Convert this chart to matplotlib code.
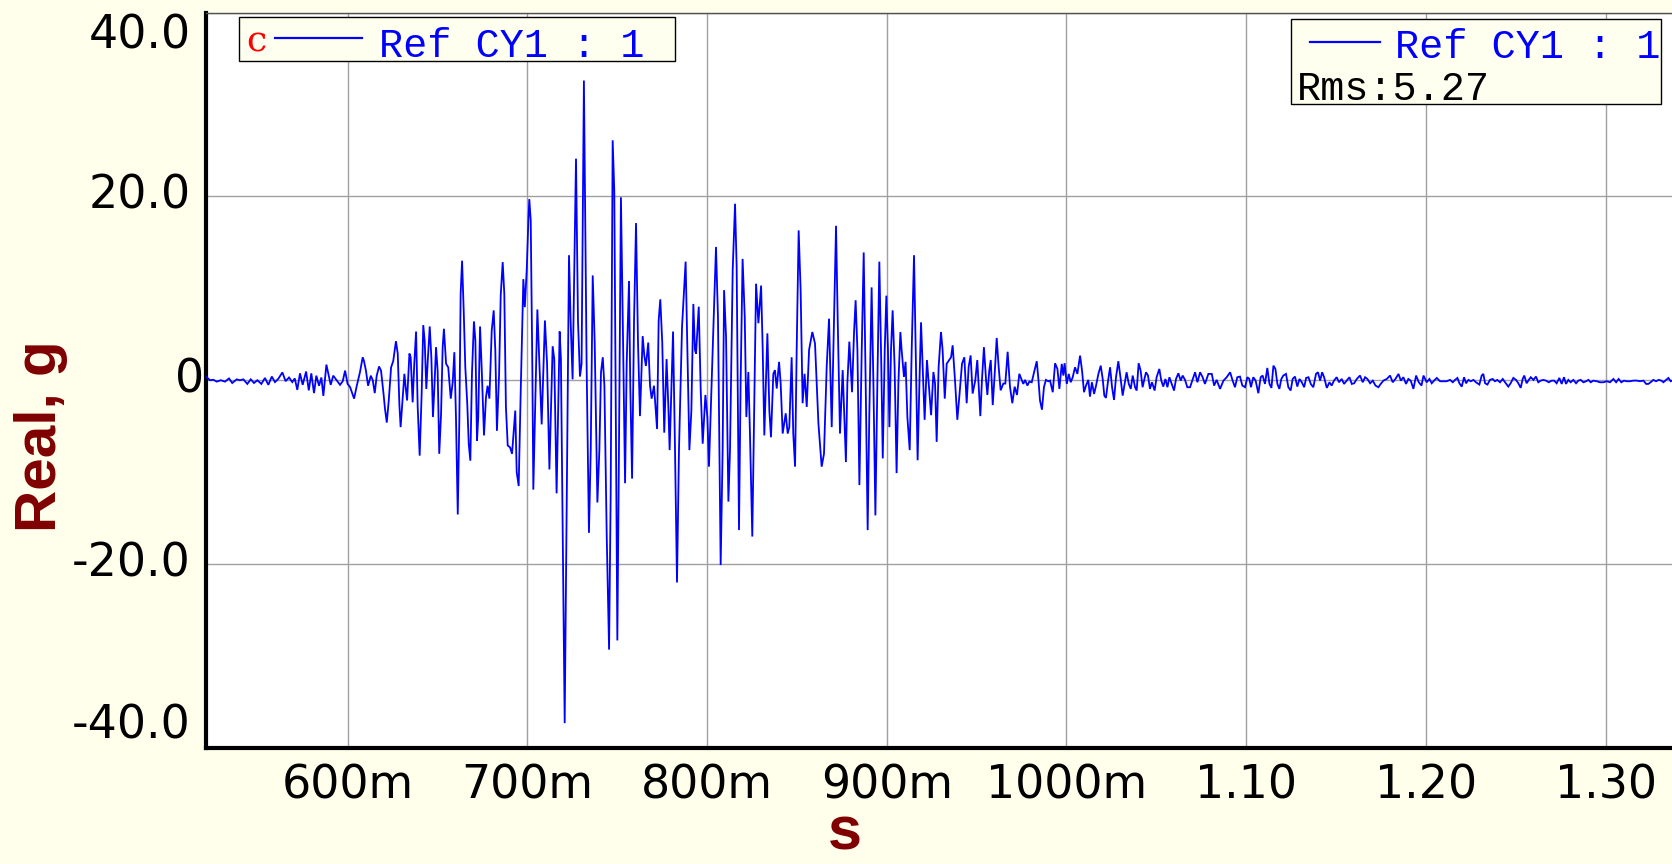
import numpy as np
import matplotlib
matplotlib.use("Agg")
import matplotlib.pyplot as plt
from matplotlib.patches import Rectangle
from matplotlib.lines import Line2D
import matplotlib.transforms as mtransforms

# ---------------- data (time in ms, value in g) ----------------
onset = [(521.2, 0.4), (523.4, 0), (525.3, 0.05), (527.2, -0.15), (529.4, 0), (531.8, -0.15), (534.0, 0.2),
         (535.8, -0.3), (538.3, 0.1), (540.1, 0), (542.0, 0.1), (544.2, -0.4), (546.1, 0.1), (547.9, -0.3),
         (549.8, 0), (552.0, -0.4), (554.0, 0.25), (555.9, -0.5), (557.8, 0.4), (559.6, -0.2), (561.4, 0.15),
         (563.7, 0.85), (565.5, -0.1), (567.4, 0.3), (569.2, -0.2), (570.6, 0.2), (572.0, -1.05), (573.5, 0.75),
         (575.0, -0.5), (576.9, 0.95), (578.4, -1.1), (579.8, 0.75), (581.3, -1.4), (582.6, 0.5), (584.1, -0.6),
         (585.4, 0.3), (586.5, -1.7), (588.2, 1.7), (589.5, 0.5), (590.6, -0.5), (592.0, 0.5), (593.9, 0),
         (595.8, -0.5), (597.3, -0.1), (598.6, 1.05), (600.0, -0.4), (601.4, -0.75), (603.6, -2.0), (605.1, -0.6)]

buildup = [(606.9, 0.9), (608.4, 2.5), (609.1, 2.1), (610.2, 1.05), (611.4, -0.6), (612.9, 0.5), (614.0, 0),
           (615.1, -1.4), (616.2, 0.5), (617.5, 1.5), (618.6, 1.05), (619.9, -1.3), (620.8, -3.1), (621.8, -4.6),
           (622.9, -2.2), (624.2, 1.4), (625.4, 2.1), (626.9, 4.25), (627.9, 2.9), (628.8, -2.6), (629.5, -5.1),
           (630.7, -1.85), (631.6, 0.7), (632.3, -0.75), (633.1, -2.2), (634.4, 2.9), (635.1, 2.5), (636.2, -2.4),
           (637.1, 1.8), (638.1, 5.3), (639.0, -2.9), (640.1, -8.2), (641.2, -1.5), (642.1, 6.0), (642.9, 4.3),
           (643.8, -0.95), (644.6, 2.1), (645.7, 5.85), (646.6, 2.5), (647.5, -4.0), (648.3, -0.75), (649.2, 3.6),
           (650.1, 1.05), (651.0, -8.0), (652.0, -3.7), (652.9, 3.6), (653.6, 5.6), (654.8, 1.8), (656.0, 1.4),
           (657.4, -2.0), (658.5, -0.2), (659.4, 3.05), (660.3, -4.0), (661.3, -14.6), (662.2, -4.0), (662.9, 9.4),
           (663.7, 13.0), (664.6, 7.6), (665.5, 1.4), (666.6, -2.6), (667.4, -6.9), (668.3, -8.75), (669.2, 0.7),
           (670.3, 6.4), (671.1, 4.3), (672.0, -6.6), (672.7, -4.0), (673.7, 5.85), (674.6, 1.4), (675.9, -6.0),
           (677.0, -1.85), (677.9, -0.6), (678.9, -2.0), (680.2, 5.4), (681.3, 7.6), (682.2, 3.2), (683.1, -5.5),
           (684.3, 0.7), (685.2, 9.2), (686.3, 12.85), (687.2, 9.4), (688.1, -2.9), (689.1, -7.1), (690.4, -7.3),
           (691.5, -8.0), (692.6, -5.1), (693.3, -3.3), (694.1, -10.0), (695.2, -11.5), (696.3, -1.5), (697.1, 5.05),
           (697.8, 11.0), (698.6, 7.95), (699.7, 12.1), (700.6, 17.4), (701.1, 19.7), (701.9, 17.4), (702.8, 1.4)]

strong = [(703.35, -11.9), (705.6, 7.7), (708.0, -4.8), (709.8, 6.5), (711.0, 1.8), (712.3, -9.7), (714.1, 3.7),
          (715.0, 2.3), (716.3, -12.3), (718.0, 5.3), (718.7, 2.3), (720.8, -37.3), (723.2, 13.6), (724.1, 6.5),
          (725.2, 0.1), (727.1, 24.1), (728.2, 6.5), (729.3, 0.4), (730.2, 1.8), (731.5, 32.6), (733.0, 1.8),
          (734.3, -16.6), (735.3, -7.6), (736.4, 11.4), (737.5, 4.1), (739.0, -13.3), (740.1, -7.6), (741.0, 0.85),
          (742.0, 2.5), (742.9, -0.6), (744.2, -17.0), (745.5, -29.3), (746.4, -12.3), (747.5, 26.1), (748.4, 20.6),
          (750.1, -28.3), (751.0, -7.6), (752.1, 19.9), (753.3, 4.1), (754.4, -11.2), (755.3, 1.8), (756.6, 10.8),
          (757.3, -0.6), (758.3, -10.7), (759.4, 6.5), (760.5, 17.1), (761.6, 4.1), (762.7, -3.9), (764.2, 4.8),
          (765.1, 2.7), (766.0, 1.55), (767.3, 4.1), (768.3, -0.6), (769.2, -2.0), (770.5, -0.6), (772.2, -5.3),
          (773.1, 6.5), (774.0, 8.8), (775.1, 4.1), (776.2, -5.7), (777.5, 2.3), (778.5, -2.9), (779.2, -7.6),
          (781.1, 5.3), (782.2, -7.6), (783.3, -22.0), (784.4, -7.6)]

late = [(785.3, -0.36), (786.1, 5.8), (786.8, 8.3), (788.1, 12.9), (789.1, 3.3), (790.2, -7.6), (791.3, -3.3),
        (792.4, 8.3), (793.3, 3.3), (793.9, 2.9), (795.4, 8.0), (796.5, -1.1), (797.6, -6.9), (799.1, -1.6),
        (800.2, -4.0), (801.1, -9.4), (802.6, -0.36), (803.5, 5.4), (805.0, 14.5), (806.1, 6.9), (807.6, -20.1),
        (808.7, -7.6), (809.5, 9.8), (810.6, 4.7), (811.9, -13.2), (812.8, -7.6), (814.3, 12.0), (815.6, 19.2),
        (816.5, 12.3), (817.8, -16.3), (818.7, -0.36), (819.8, 13.2), (821.0, 6.9), (821.9, -4.0), (823.0, 0.9),
        (823.9, -5.8), (825.2, -17.0), (826.2, -4.0), (827.3, 10.5), (828.6, 6.2), (830.1, 10.3), (831.0, 3.3),
        (831.9, -6.0), (833.6, 5.1), (834.7, -3.3), (835.6, -6.2), (836.9, 0.7), (837.8, 1.1), (838.8, -0.9),
        (840.1, 2.0), (841.0, -0.36), (842.1, -5.8), (843.8, -3.6), (844.9, -5.8), (845.8, -5.1), (847.1, 2.5),
        (848.0, -5.8), (849.0, -9.4), (849.9, 3.3), (851.0, 16.3), (852.1, 9.8), (853.2, -2.5), (854.3, 0.7),
        (855.5, -2.9), (856.8, 3.3), (858.6, 5.25), (860.1, 4.0), (862.0, -4.7), (863.8, -9.4), (865.1, -8.0),
        (866.6, 1.45), (867.9, 6.7), (869.4, -5.1), (870.3, 3.3), (871.8, 16.8), (872.7, 6.9), (874.0, -5.8),
        (875.5, 1.1), (877.3, -8.9), (878.1, -0.36), (879.2, 4.2), (880.7, -1.3), (881.8, 5.1), (882.7, 8.7),
        (883.7, 3.3), (884.8, -11.4), (886.1, 3.3), (887.2, 13.9), (888.3, -0.36), (889.4, -16.3), (890.3, -4.0),
        (891.6, 10.1), (892.6, -0.36), (893.7, -14.7), (894.8, -0.36), (895.9, 12.9), (897.0, 1.45), (897.8, -8.5),
        (898.9, 3.3), (899.8, 9.2), (900.7, 3.3), (901.5, -5.1), (902.4, 3.3), (903.3, 7.6), (904.4, 1.45),
        (905.5, -10.1), (906.5, -0.36), (907.6, 5.25), (908.3, 3.3), (909.6, 0.36), (910.5, 2.0), (911.5, -4.0),
        (912.8, -7.6), (913.9, 3.3), (915.2, 13.6), (916.1, 3.3), (917.2, -8.7), (918.2, -0.36), (919.1, 6.3),
        (920.0, 1.45), (921.1, -4.3), (922.4, 2.2), (923.4, -0.36), (924.7, -3.8), (926.0, 0.9), (926.9, -0.36),
        (927.8, -6.7), (928.9, 1.45), (930.2, 5.25), (931.1, 3.3), (932.3, -2.0), (933.4, 1.8)]

decay = [(935.8, 2.5), (936.7, 3.8), (938.0, 0), (939.3, -4.3), (940.4, -1.8), (941.9, 1.8), (943.2, 2.5),
         (944.5, -2.5), (945.6, 1.45), (946.7, 2.7), (947.8, -1.45), (949.3, 0), (950.4, 2.2), (952.1, -3.9),
         (953.0, 0), (954.1, 3.6), (955.3, 0), (956.0, -1.6), (957.1, 1.1), (957.9, 2.2), (959.0, -2.7),
         (960.1, 0.7), (961.2, 4.6), (962.3, 1.45), (963.4, -1.1), (964.9, -0.36), (966.0, -0.36), (967.3, 3.1),
         (968.6, -0.7), (969.9, -2.5), (971.2, -0.7), (972.5, -1.6), (973.8, 0.7)]

coda = [(976.0, -0.4), (977.0, 0.04), (978.3, -0.58), (979.4, -0.14), (980.7, -0.22), (982.0, 0.87), (983.5, 2.07),
        (984.4, 0.14), (985.3, -2.2), (986.4, -3.2), (987.5, -0.76), (988.6, 0.04), (989.9, -0.11), (990.9, -0.04),
        (992.4, -1.3), (993.7, 1.85), (995.0, 1.23), (996.1, -0.94), (997.4, 1.78), (998.3, 0.51), (999.0, 1.85),
        (1000.2, -0.4), (1001.3, 0.69), (1002.4, -0.22), (1003.5, 0.33), (1004.8, 1.41), (1006.1, 0.69),
        (1007.6, 2.68), (1008.7, 1.05), (1009.8, -1.3), (1010.9, -0.58), (1012.2, 0.04), (1013.1, -1.78),
        (1014.2, -0.22), (1015.4, -1.49), (1016.5, -0.58), (1017.8, 0.69), (1019.1, 1.59), (1020.2, 0.14),
        (1021.1, -1.67), (1022.0, -1.92), (1023.2, -0.04), (1024.3, 1.41), (1025.4, -0.76), (1026.5, -2.14),
        (1027.6, 0.33), (1028.9, 2.07), (1030.2, 0.14), (1031.3, -1.67), (1032.4, -0.4), (1033.5, 0.87),
        (1034.7, -0.4), (1035.8, -0.94), (1036.9, 0.51), (1038.2, -0.76), (1039.1, -1.12), (1040.2, 1.85),
        (1041.3, 1.05), (1042.4, -0.76), (1043.2, -0.04), (1044.3, 0.87), (1045.4, 0.51), (1046.5, -0.94),
        (1047.6, -0.22), (1049.1, -1.12), (1050.2, 0.33), (1051.7, 1.23), (1052.8, -0.04), (1053.9, -0.69),
        (1055.1, 0.14), (1056.2, -0.76), (1057.3, 0.33), (1058.6, -0.4), (1059.9, -1.12), (1061.0, 0.14),
        (1062.3, 0.76), (1063.6, -0.04), (1064.7, 0.51), (1066.0, 0.04), (1067.3, -0.76)]

tail_a = [(1068.8, -0.76), (1071.6, 0.87), (1072.9, -0.22), (1074.4, 0.87), (1075.8, 0.33), (1077.1, -0.4),
          (1079.0, 0.69), (1080.9, 0.69), (1082.2, -0.58), (1083.6, 0.04), (1085.5, -0.94), (1087.4, -0.04),
          (1089.2, 0.33), (1091.1, 0.87), (1092.5, -0.04), (1093.8, -0.76), (1095.1, 0.33), (1096.6, 0.4),
          (1097.9, -0.58), (1099.4, -0.76), (1100.7, 0.33), (1101.8, 0.14), (1102.7, -0.76), (1104.0, 0.33),
          (1105.3, -0.04), (1106.8, -1.41), (1108.1, 0.33), (1109.2, 0.51), (1110.5, -0.4), (1111.8, 1.34),
          (1113.0, -0.4), (1114.1, -0.83), (1115.2, 1.59), (1116.3, 1.23), (1117.4, -0.4), (1118.5, -0.94),
          (1119.6, 0.14), (1120.7, 0.51), (1122.2, 0.69), (1123.5, -0.76), (1124.8, -1.12), (1125.9, 0.14),
          (1127.2, 0.4), (1128.5, -0.69), (1129.7, 0.14), (1131.0, -0.22), (1132.3, -0.76), (1133.4, 0.25),
          (1134.7, 0.33), (1136.0, -0.4), (1137.4, -0.76), (1138.9, 0.69), (1140.0, 0.87), (1141.2, -0.04),
          (1142.3, 0.87), (1143.4, 0.33), (1144.9, -0.83), (1146.4, -0.22), (1147.6, -0.58), (1148.9, -0.04),
          (1150.4, 0.33), (1151.7, -0.22), (1153.2, 0.14), (1154.5, -0.4), (1156.0, -0.04), (1157.5, 0.33),
          (1158.8, -0.4), (1160.1, -0.33), (1161.6, 0.14), (1163.4, 0.51), (1164.9, -0.22), (1166.2, 0.33),
          (1167.5, 0.14), (1169.0, -0.33), (1170.5, -0.04), (1172.0, -0.58), (1173.6, -0.76), (1174.9, -0.4),
          (1176.4, -0.04), (1178.3, 0.14), (1180.1, 0.51), (1181.6, -0.22), (1183.1, 0.14), (1184.8, 0.69),
          (1186.1, -0.04), (1187.5, 0.33), (1189.0, -0.4), (1190.3, 0.14), (1191.6, -0.04), (1193.1, -0.94),
          (1194.6, 0.51), (1196.1, -0.22), (1197.6, -0.58), (1198.7, 0.51), (1200.5, -0.22), (1202.0, 0.14),
          (1203.3, -0.33), (1204.6, -0.04), (1206.1, 0.25)]

tail_b = [(1207.9, -0.11), (1209.8, -0.11), (1211.6, -0.11), (1213.5, 0.04), (1215.0, -0.22), (1216.3, 0.04),
          (1217.6, 0.25), (1218.7, -0.33), (1220.0, -0.69), (1221.3, 0.33), (1222.4, -0.33), (1223.7, 0.04),
          (1225.0, -0.11), (1226.5, 0.04), (1227.9, -0.22), (1229.8, -0.47), (1231.1, 0.51), (1232.0, 0.69),
          (1233.0, -0.33), (1234.3, -0.47), (1235.7, 0.04), (1237.2, 0.14), (1238.5, -0.11), (1239.8, 0.04),
          (1241.3, -0.22), (1242.8, 0.14), (1244.1, -0.22), (1245.9, -0.69), (1247.2, -0.33), (1248.7, 0.25),
          (1250.2, 0.04), (1251.5, -0.33), (1252.8, -0.83), (1253.9, 0.14), (1254.8, 0.51), (1256.1, -0.33),
          (1257.3, 0.04), (1258.4, 0.33), (1259.9, 0.04), (1261.3, 0.4), (1262.6, -0.22), (1263.9, -0.04),
          (1265.4, 0.04), (1266.9, -0.04), (1268.4, -0.22), (1270.1, -0.04), (1271.4, -0.04), (1272.8, -0.33),
          (1274.3, 0.25), (1275.6, -0.4), (1276.9, 0.33), (1278.0, -0.4), (1279.3, 0.04), (1280.6, -0.22),
          (1282.1, 0.04), (1283.6, -0.33), (1284.9, -0.04), (1286.2, 0.04), (1287.7, -0.22), (1289.2, -0.11),
          (1290.5, 0.04), (1291.8, -0.22), (1293.2, -0.04), (1295.1, -0.11), (1297.0, -0.22), (1298.8, -0.22),
          (1300.7, -0.11), (1302.5, -0.22), (1304.4, 0.14), (1305.9, -0.22), (1307.3, 0.14), (1308.8, -0.22),
          (1310.3, -0.04), (1311.8, -0.11), (1313.6, -0.11), (1315.5, -0.04), (1317.4, -0.04), (1319.2, -0.11),
          (1321.1, -0.04), (1322.6, -0.4), (1323.8, -0.4), (1325.1, -0.22), (1326.6, 0.04), (1328.1, -0.11),
          (1329.6, 0.04), (1331.1, -0.04), (1332.2, -0.22), (1333.7, 0.04), (1335.0, 0.25), (1336.3, -0.11),
          (1337.5, 0.0)]

x_ticks = [0.6, 0.7, 0.8, 0.9, 1.0, 1.1, 1.2, 1.3]
x_ticklabels = ["600m", "700m", "800m", "900m", "1000m", "1.10", "1.20", "1.30"]
y_ticks = [-40, -20, 0, 20, 40]
y_ticklabels = ["-40.0", "-20.0", "0", "20.0", "40.0"]
series_name = "Ref CY1 : 1"
rms_text = "Rms:5.27"

# ---------------- figure ----------------
W, H = 1672, 864
BG = "#FFFFEC"
fig = plt.figure(figsize=(W / 100, H / 100), dpi=100, facecolor=BG)


def fx(px):
    return px / W


def fy(py):
    return 1 - py / H


ax_left, ax_right, ax_top, ax_bot = 206, 1672, 12.5, 748
ax = fig.add_axes([fx(ax_left), fy(ax_bot), fx(ax_right - ax_left), (ax_bot - ax_top) / H])
ax.set_facecolor("white")

segments = [onset, buildup, strong, late, decay, coda, tail_a, tail_b]
pts = [p for seg in segments for p in seg]
t = np.array([p[0] for p in pts]) / 1000.0
g = np.array([p[1] for p in pts])
ax.plot(t, g, color="#0000FF", lw=1.3, zorder=3, solid_joinstyle="miter")

ax.set_xlim(0.5212, 1.337)
ax.set_ylim(-40, 40)
ax.set_xticks(x_ticks)
ax.set_xticklabels(x_ticklabels, fontsize=33, family="DejaVu Sans")
ax.set_yticks(y_ticks)
ax.set_yticklabels([])
ax.tick_params(axis="both", length=0)
ax.tick_params(axis="x", pad=11)
ax.grid(True, color="#A0A0A0", lw=1.0)
ax.set_axisbelow(True)

ax.spines["right"].set_visible(False)
ax.spines["top"].set_color("#505050")
ax.spines["top"].set_linewidth(1.0)
ax.spines["left"].set_linewidth(3.0)
ax.spines["bottom"].set_linewidth(3.0)
ax.spines["left"].set_color("black")
ax.spines["bottom"].set_color("black")

# y tick labels (placed by hand; the end labels sit inside the range)
ytrans = mtransforms.blended_transform_factory(fig.transFigure, ax.transData)
label_pos = {"40.0": 37.4, "20.0": 20, "0": 0, "-20.0": -20, "-40.0": -37.6}
for lab in y_ticklabels:
    xr = 204 if lab == "0" else 191
    ax.text(fx(xr), label_pos[lab], lab, transform=ytrans, ha="right", va="center",
            fontsize=33, family="DejaVu Sans", color="black", clip_on=False)

# axis titles
fig.text(fx(41), fy(436), "Real, g", rotation=90, ha="center", va="center",
         fontsize=42, fontweight="bold", color="#800000", family="Liberation Sans")
fig.text(fx(845), 1.5 / H, "s", ha="center", va="bottom",
         fontsize=44, fontweight="bold", color="#800000", family="Liberation Sans")

# legend boxes
LEG_BG = "#FFFFF0"


def box(x0, y0, x1, y1):
    r = Rectangle((fx(x0), fy(y1)), fx(x1 - x0), (y1 - y0) / H, transform=fig.transFigure,
                  facecolor=LEG_BG, edgecolor="black", lw=1.0, zorder=5)
    fig.add_artist(r)


def seg(x0, x1, y):
    fig.add_artist(Line2D([fx(x0), fx(x1)], [fy(y), fy(y)], transform=fig.transFigure,
                          color="#0000FF", lw=1.6, zorder=6))


mono = "Liberation Mono"
box(239, 17, 675, 61)
fig.text(fx(246), fy(51), "c", ha="left", va="baseline", fontsize=26, color="red",
         family="DejaVu Serif", zorder=7)
seg(275, 362, 38)
fig.text(fx(379), fy(57), series_name, ha="left", va="baseline", fontsize=29, color="#0000FF",
         family=mono, zorder=7)

box(1291, 19, 1661, 104)
seg(1310, 1380, 42)
fig.text(fx(1395), fy(58), series_name, ha="left", va="baseline", fontsize=29, color="#0000FF",
         family=mono, zorder=7)
fig.text(fx(1297), fy(100), rms_text, ha="left", va="baseline", fontsize=29, color="black",
         family=mono, zorder=7)

fig.savefig("out.png", dpi=100, facecolor=BG)
